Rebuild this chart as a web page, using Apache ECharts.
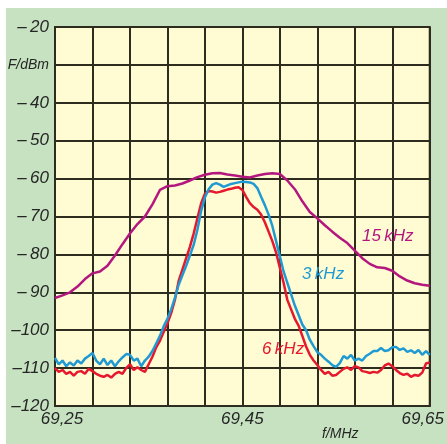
<!DOCTYPE html>
<html>
<head>
<meta charset="utf-8">
<script src="https://cdn.jsdelivr.net/npm/echarts@6/dist/echarts.min.js"></script>
<style>
html,body{margin:0;padding:0;background:#ffffff;}
#chart{width:447px;height:444px;}
</style>
</head>
<body>
<div id="chart"></div>
<script>
// Frequency in MHz (category axis, 0.004 MHz step)
const freq = [
69.250,69.254,69.258,69.262,69.266,69.270,69.274,69.278,69.282,69.286,
69.290,69.294,69.298,69.302,69.306,69.310,69.314,69.318,69.322,69.326,
69.330,69.334,69.338,69.342,69.346,69.350,69.354,69.358,69.362,69.366,
69.370,69.374,69.378,69.382,69.386,69.390,69.394,69.398,69.402,69.406,
69.410,69.414,69.418,69.422,69.426,69.430,69.434,69.438,69.442,69.446,
69.450,69.454,69.458,69.462,69.466,69.470,69.474,69.478,69.482,69.486,
69.490,69.494,69.498,69.502,69.506,69.510,69.514,69.518,69.522,69.526,
69.530,69.534,69.538,69.542,69.546,69.550,69.554,69.558,69.562,69.566,
69.570,69.574,69.578,69.582,69.586,69.590,69.594,69.598,69.602,69.606,
69.610,69.614,69.618,69.622,69.626,69.630,69.634,69.638,69.642,69.646,
69.650];

// 3 kHz filter (blue), dBm
const level3k = [
-107.3,-109,-108,-109.5,-108.5,-109.3,-108,-108.8,-107.5,-106.8,
-106,-108,-109,-107.5,-109.2,-108,-109.5,-108.2,-107.2,-106.3,
-106.5,-108,-107.5,-109.5,-108,-107,-105.5,-103.5,-101.5,-99,
-97,-94.5,-91.5,-88,-85.5,-83,-80.3,-77.5,-73.5,-68.5,
-65,-62.8,-61.6,-61.2,-61.6,-62.2,-61.8,-61.4,-61.2,-61,
-60.8,-60.9,-61,-61.4,-62.5,-64.8,-67,-69.5,-72.5,-76.5,
-80.5,-84.5,-87.5,-90.5,-93.5,-96,-98.5,-100,-102.5,-104.2,
-105.8,-106.5,-107.5,-108.3,-109.2,-109.7,-108.7,-106.8,-107.5,-106.5,
-108,-107.5,-108,-106.8,-106.2,-105.5,-105.5,-104.7,-105.5,-105.3,
-104.5,-104.4,-105.2,-104.8,-105.7,-105.3,-106,-105.2,-106.5,-105.5,
-106.5];

// 6 kHz filter (red), dBm
const level6k = [
-110,-111,-110.5,-111.5,-111,-112,-111,-110.8,-111.5,-110.2,
-110.8,-111.5,-112,-112.3,-111.8,-112.5,-111.5,-111,-111.5,-110,
-109,-110.5,-109.8,-110.5,-111,-109,-107,-104.5,-102.8,-100.5,
-98.2,-95.5,-92,-87,-84,-81,-78,-74.5,-70.5,-66.5,
-64,-63.3,-63.4,-63.7,-63.5,-63.2,-62.9,-62.7,-62.4,-62.3,
-63,-64.8,-66.5,-67.5,-68.2,-69.5,-71.5,-74,-76.5,-79.5,
-83.5,-87.5,-92,-94.5,-97,-98.8,-101.5,-104.3,-106.5,-108,
-109.2,-110.5,-111.5,-111,-112,-111.8,-111,-110.2,-109.8,-110.5,
-109.5,-109.8,-110.8,-111,-111.3,-111,-111.2,-110.5,-109.3,-108.8,
-109.5,-110.5,-111.3,-111.8,-111.5,-112.3,-111.8,-112,-111.2,-108.8,
-108.5];

// 15 kHz filter (magenta), dBm, every second frequency point
const level15k = [
-91.5,null,-90.8,null,-90,null,-88.5,null,-86.5,null,
-85,null,-84.5,null,-83,null,-80.3,null,-77.3,null,
-74.5,null,-72,null,-70,null,-66.8,null,-63,null,
-62,null,-61.8,null,-61.3,null,-60.5,null,-59.6,null,
-59,null,-58.6,null,-58.5,null,-58.9,null,-59.2,null,
-59.5,null,-59.7,null,-59.2,null,-58.8,null,-58.6,null,
-58.8,null,-60.5,null,-62.8,null,-66,null,-68.8,null,
-70.5,null,-72.3,null,-74,null,-75.6,null,-77,null,
-79,null,-81,null,-82.5,null,-83.4,null,-83.6,null,
-84.3,null,-85.8,null,-86.9,null,-87.6,null,-88,null,
-88.3];

const xTickLabels = {0:'69,25', 50:'69,45', 100:'69,65'};
const yUnitLabel = 'F/dBm';
const seriesNames = ['15 kHz', '3 kHz', '6 kHz'];

const gridCol = '#2e2c1e';
const txtCol = '#262626';
const font = '"Liberation Sans", Arial, sans-serif';

const chart = echarts.init(document.getElementById('chart'), null, {renderer:'canvas'});
chart.setOption({
  animation:false,
  backgroundColor:'#ffffff',
  textStyle:{fontFamily:font},
  graphic:[
    {type:'rect', z:-10, silent:true, shape:{x:6,y:8,width:441,height:436}, style:{fill:'#c6e2c0'}},
    {type:'text', z:10, left:322, top:427, style:{text:'f/MHz', font:'italic 14px '+font, fill:txtCol}},
    {type:'text', z:10, left:362, top:228, style:{text:'15\u2009kHz', font:'italic 17px '+font, fill:'#b3177f'}},
    {type:'text', z:10, left:302, top:266, style:{text:'3\u2009kHz', font:'italic 17px '+font, fill:'#1f9ad3'}},
    {type:'text', z:10, left:262, top:341, style:{text:'6\u2009kHz', font:'italic 17px '+font, fill:'#e5182e'}}
  ],
  grid:{left:55, top:27, width:379, height:379, show:true, backgroundColor:'#fffbd2', borderColor:gridCol, borderWidth:2},
  xAxis:{
    type:'category', data:freq, boundaryGap:false,
    axisLine:{show:true, lineStyle:{color:gridCol, width:2}},
    axisTick:{show:false},
    splitLine:{show:true, interval:function(i){return i%10===0;}, lineStyle:{color:gridCol, width:2}},
    axisLabel:{
      interval:function(i){return i%50===0;},
      margin:5, fontSize:17, fontStyle:'italic', color:txtCol, fontFamily:font,
      formatter:function(v,i){
        if(i===0) return '{l|'+xTickLabels[0]+'}';
        if(i===100) return '{r|'+xTickLabels[100]+'}';
        return xTickLabels[i]||'';
      },
      rich:{
        l:{fontSize:17, fontStyle:'italic', color:txtCol, fontFamily:font, padding:[0,0,0,14]},
        r:{fontSize:17, fontStyle:'italic', color:txtCol, fontFamily:font, padding:[0,14,0,0]}
      }
    }
  },
  yAxis:{
    type:'value', min:-120, max:-20, interval:10,
    axisLine:{show:true, lineStyle:{color:gridCol, width:2}},
    axisTick:{show:false},
    splitLine:{show:true, lineStyle:{color:gridCol, width:2}},
    axisLabel:{
      margin:6, fontSize:17, fontStyle:'italic', color:txtCol, fontFamily:font,
      formatter:function(v){
        if(v===-30) return '{u|'+yUnitLabel+'}';
        return '\u2013' + (v>-100?'\u2009':'') + Math.abs(v);
      },
      rich:{u:{fontSize:14, fontStyle:'italic', color:txtCol, fontFamily:font}}
    }
  },
  series:[
    {name:seriesNames[0], type:'line', data:level15k, connectNulls:true, showSymbol:false, lineStyle:{color:'#b3177f', width:2.5}, z:3},
    {name:seriesNames[1], type:'line', data:level3k, showSymbol:false, lineStyle:{color:'#1f9ad3', width:2.5}, z:5},
    {name:seriesNames[2], type:'line', data:level6k, showSymbol:false, lineStyle:{color:'#e5182e', width:2.5}, z:4}
  ]
});
</script>
</body>
</html>
